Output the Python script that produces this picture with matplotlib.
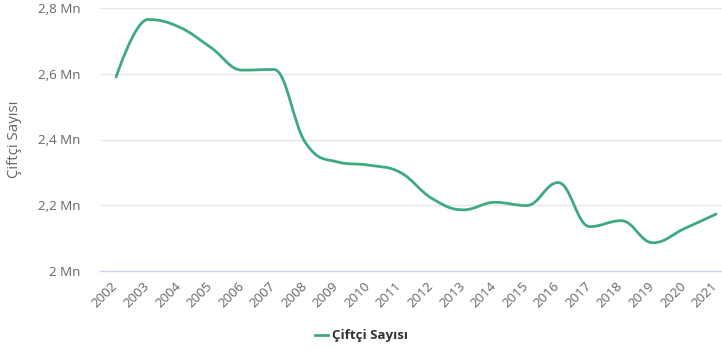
import numpy as np
import matplotlib.pyplot as plt
import matplotlib.transforms as mtransforms
from matplotlib.path import Path
from matplotlib.patches import PathPatch
from matplotlib.lines import Line2D

plt.rcParams["font.family"] = ["Open Sans", "DejaVu Sans"]

# Farmer counts per year (millions)
years = list(range(2002, 2022))
farmers = [2.59, 2.765, 2.742, 2.68, 2.611, 2.613, 2.39, 2.332, 2.322, 2.30,
           2.221, 2.186, 2.209, 2.199, 2.269, 2.135, 2.153, 2.086, 2.129, 2.173]

y_ticks = [2.0, 2.2, 2.4, 2.6, 2.8]
y_labels = ["2 Mn", "2,2 Mn", "2,4 Mn", "2,6 Mn", "2,8 Mn"]

line_color = "#3dab7f"
text_color = "#666666"


def spline_path(xs, ys, smoothing=1.5):
    # bezier spline with the same control point rule as highcharts "spline"
    n = len(xs)
    denom = smoothing + 1
    left = [None] * n
    right = [None] * n
    for i in range(1, n - 1):
        px, py = xs[i], ys[i]
        lx, ly = xs[i - 1], ys[i - 1]
        nx, ny = xs[i + 1], ys[i + 1]
        lcx = (smoothing * px + lx) / denom
        lcy = (smoothing * py + ly) / denom
        rcx = (smoothing * px + nx) / denom
        rcy = (smoothing * py + ny) / denom
        if rcx != lcx:
            corr = (rcy - lcy) * (rcx - px) / (rcx - lcx) + py - rcy
            lcy += corr
            rcy += corr
        if lcy > ly and lcy > py:
            lcy = max(ly, py)
            rcy = 2 * py - lcy
        elif lcy < ly and lcy < py:
            lcy = min(ly, py)
            rcy = 2 * py - lcy
        if rcy > ny and rcy > py:
            rcy = max(ny, py)
            lcy = 2 * py - rcy
        elif rcy < ny and rcy < py:
            rcy = min(ny, py)
            lcy = 2 * py - rcy
        left[i] = (lcx, lcy)
        right[i] = (rcx, rcy)
    verts = [(xs[0], ys[0])]
    codes = [Path.MOVETO]
    for i in range(1, n):
        c1 = right[i - 1] if right[i - 1] is not None else (xs[i - 1], ys[i - 1])
        c2 = left[i] if left[i] is not None else (xs[i], ys[i])
        verts += [c1, c2, (xs[i], ys[i])]
        codes += [Path.CURVE4] * 3
    return Path(verts, codes)


fig = plt.figure(figsize=(7.22, 3.5), dpi=100)
ax = fig.add_axes([100 / 722, 1 - 271 / 350, 622 / 722, 263 / 350])

ax.add_patch(PathPatch(spline_path(years, farmers), facecolor="none",
                       edgecolor=line_color, lw=2, capstyle="round",
                       joinstyle="round", zorder=3))

ax.set_xlim(2001.49, 2021.19)
ax.set_ylim(2.0, 2.8)

ax.set_yticks(y_ticks)
ax.set_yticklabels(y_labels, color=text_color, fontsize=9.6)
ax.set_xticks(years)
ax.set_xticklabels([str(y) for y in years], rotation=45, ha="right",
                   rotation_mode="anchor", color=text_color, fontsize=9.6)
ax.tick_params(axis="both", length=0)
ax.tick_params(axis="y", pad=14)
ax.tick_params(axis="x", pad=6)

# nudge the rotated year labels so they end just past the tick
shift = mtransforms.ScaledTranslation(-5 / 100, 0, fig.dpi_scale_trans)
for lbl in ax.get_xticklabels():
    lbl.set_transform(lbl.get_transform() + shift)

ax.grid(axis="y", color="#e6e6e6", lw=1)
ax.set_axisbelow(True)
for s in ["top", "right", "left"]:
    ax.spines[s].set_visible(False)
ax.spines["bottom"].set_color("#ccd6eb")
ax.spines["bottom"].set_linewidth(1)

fig.text(15 / 722, 1 - 139 / 350, "Çiftçi Sayısı", rotation=90,
         ha="center", va="center", color=text_color, fontsize=10.8)

# legend entry at the bottom
fig.add_artist(Line2D([315 / 722, 328 / 722], [1 - 335 / 350] * 2,
                      color=line_color, lw=2))
fig.text(332 / 722, 1 - 335 / 350, "Çiftçi Sayısı", ha="left", va="center",
         color="#333333", fontsize=9.6, fontweight="bold")

fig.savefig("out.png", dpi=100)
